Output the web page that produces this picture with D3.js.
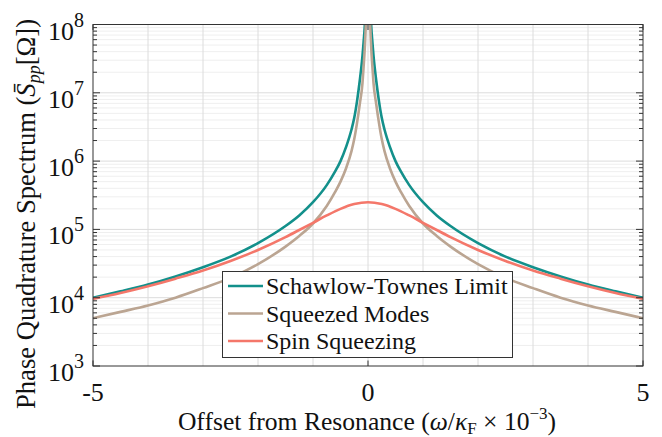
<!DOCTYPE html>
<html><head><meta charset="utf-8">
<script src="https://cdn.jsdelivr.net/npm/d3@7"></script>
<style>
body{margin:0;background:#fff}
text{font-family:"Liberation Serif","Times New Roman",serif;fill:#111}
</style>
</head><body>
<svg id="c" width="662" height="437"></svg>
<script>
// ---- data ----
const seriesNames = ["Schawlow-Townes Limit", "Squeezed Modes", "Spin Squeezing"];
const xTicks = [-5, 0, 5];
const yTicks = [3, 4, 5, 6, 7, 8]; // exponents of 10

const stX  = [-5,-4.5,-4,-3.5,-3,-2.5,-2,-1.5,-1.25,-1,-0.75,-0.6,-0.5,-0.4,-0.3,-0.25,-0.2,-0.15,-0.1,-0.08,-0.06,-0.04,
              0.04,0.06,0.08,0.1,0.15,0.2,0.25,0.3,0.4,0.5,0.6,0.75,1,1.25,1.5,2,2.5,3,3.5,4,4.5,5];
const stY  = [1.0e4,1.24e4,1.56e4,2.05e4,2.8e4,4.0e4,6.3e4,1.12e5,1.6e5,2.5e5,4.45e5,7.0e5,1.0e6,1.6e6,2.9e6,4.3e6,7.5e6,1.5e7,3.5e7,5.5e7,9.0e7,2.0e8,
              2.0e8,9.0e7,5.5e7,3.5e7,1.5e7,7.5e6,4.3e6,2.9e6,1.6e6,1.0e6,7.0e5,4.45e5,2.5e5,1.6e5,1.12e5,6.3e4,4.0e4,2.8e4,2.05e4,1.56e4,1.24e4,1.0e4];

const sqX  = [-5,-4.5,-4,-3.5,-3,-2.5,-2,-1.5,-1.25,-1,-0.75,-0.6,-0.5,-0.4,-0.3,-0.25,-0.2,-0.15,-0.1,-0.08,-0.06,-0.04,-0.03,
              0.03,0.04,0.06,0.08,0.1,0.15,0.2,0.25,0.3,0.4,0.5,0.6,0.75,1,1.25,1.5,2,2.5,3,3.5,4,4.5,5];
const sqY  = [5.0e3,6.2e3,7.7e3,1.0e4,1.38e4,1.95e4,3.1e4,5.6e4,8.0e4,1.22e5,2.2e5,3.5e5,5.0e5,7.8e5,1.4e6,2.1e6,3.6e6,6.8e6,1.4e7,2.4e7,4.3e7,1.0e8,1.8e8,
              1.8e8,1.0e8,4.3e7,2.4e7,1.4e7,6.8e6,3.6e6,2.1e6,1.4e6,7.8e5,5.0e5,3.5e5,2.2e5,1.22e5,8.0e4,5.6e4,3.1e4,1.95e4,1.38e4,1.0e4,7.7e3,6.2e3,5.0e3];

const spX  = [-5,-4.5,-4,-3.5,-3,-2.5,-2,-1.5,-1.25,-1,-0.75,-0.5,-0.25,0,0.25,0.5,0.75,1,1.25,1.5,2,2.5,3,3.5,4,4.5,5];
const spY  = [9.6e3,1.17e4,1.47e4,1.9e4,2.5e4,3.45e4,5.0e4,7.7e4,9.8e4,1.25e5,1.6e5,2.0e5,2.35e5,2.5e5,2.35e5,2.0e5,1.6e5,1.25e5,9.8e4,7.7e4,5.0e4,3.45e4,2.5e4,1.9e4,1.47e4,1.17e4,9.6e3];

const colors = ["#13908b", "#bba592", "#f4776a"];

// ---- layout ----
const L = 93, R = 643, T = 24.5, B = 366;
const svg = d3.select("#c");
const x = d3.scaleLinear().domain([-5, 5]).range([L, R]);
const y = d3.scaleLog().domain([1e3, 1e8]).range([B, T]);

// grid
const g = svg.append("g");
const minorVals = [];
for (let e = 3; e < 8; e++) for (let m = 2; m <= 9; m++) minorVals.push(m * Math.pow(10, e));
g.selectAll(".hm").data(minorVals).join("line")
  .attr("x1", L).attr("x2", R).attr("y1", d => y(d)).attr("y2", d => y(d))
  .attr("stroke", "#efefef").attr("stroke-width", 1);
g.selectAll(".hM").data(yTicks.slice(1, -1)).join("line")
  .attr("x1", L).attr("x2", R).attr("y1", d => y(Math.pow(10, d))).attr("y2", d => y(Math.pow(10, d)))
  .attr("stroke", "#dcdcdc").attr("stroke-width", 1);
g.selectAll(".v").data(d3.range(-4, 5)).join("line")
  .attr("x1", d => x(d)).attr("x2", d => x(d)).attr("y1", T).attr("y2", B)
  .attr("stroke", "#dcdcdc").attr("stroke-width", 1);

// curves
svg.append("clipPath").attr("id", "clip").append("rect")
  .attr("x", L).attr("y", T).attr("width", R - L).attr("height", B - T);
const line = d3.line().x(d => x(d[0])).y(d => y(d[1])).curve(d3.curveMonotoneX);
const series = [d3.zip(stX, stY), d3.zip(sqX, sqY), d3.zip(spX, spY)];
const cg = svg.append("g").attr("clip-path", "url(#clip)");
series.forEach((s, i) => {
  cg.append("path").attr("d", line(s)).attr("fill", "none")
    .attr("stroke", colors[i]).attr("stroke-width", 2.6);
});

// axes box and ticks
const ax = svg.append("g").attr("stroke", "#333").attr("stroke-width", 1);
ax.append("rect").attr("x", L).attr("y", T).attr("width", R - L).attr("height", B - T).attr("fill", "none");
yTicks.forEach(e => {
  const yy = y(Math.pow(10, e));
  ax.append("line").attr("x1", L).attr("x2", L + 7).attr("y1", yy).attr("y2", yy);
  ax.append("line").attr("x1", R).attr("x2", R - 7).attr("y1", yy).attr("y2", yy);
});
minorVals.forEach(v => {
  const yy = y(v);
  ax.append("line").attr("x1", L).attr("x2", L + 4).attr("y1", yy).attr("y2", yy);
  ax.append("line").attr("x1", R).attr("x2", R - 4).attr("y1", yy).attr("y2", yy);
});
xTicks.forEach(t => {
  ax.append("line").attr("x1", x(t)).attr("x2", x(t)).attr("y1", B).attr("y2", B - 5.5);
  ax.append("line").attr("x1", x(t)).attr("x2", x(t)).attr("y1", T).attr("y2", T + 5.5);
});

// tick labels
yTicks.forEach(e => {
  const t = svg.append("text").attr("x", 84).attr("y", y(Math.pow(10, e)) + 15)
    .attr("text-anchor", "end").style("font-size", "26px");
  t.append("tspan").text("10");
  t.append("tspan").attr("dy", -13).style("font-size", "20px").text(String(e));
});
xTicks.forEach(v => {
  svg.append("text").attr("x", x(v)).attr("y", 400.5).attr("text-anchor", "middle")
    .style("font-size", "26px").text(v < 0 ? "-" + Math.abs(v) : String(v));
});

// axis titles
const xl = svg.append("text").attr("x", 367).attr("y", 430).attr("text-anchor", "middle").style("font-size", "25.6px");
xl.append("tspan").text("Offset from Resonance (");
xl.append("tspan").style("font-style", "italic").text("ω");
xl.append("tspan").text("/");
xl.append("tspan").style("font-style", "italic").text("κ");
xl.append("tspan").attr("dy", 4).style("font-size", "17px").text("F");
xl.append("tspan").attr("dy", -4).text(" × 10");
xl.append("tspan").attr("dy", -11).style("font-size", "17px").text("−3");
xl.append("tspan").attr("dy", 11).text(")");

const yl = svg.append("text").attr("transform", "translate(35,214) rotate(-90)")
  .attr("text-anchor", "middle").style("font-size", "26.6px");
yl.append("tspan").text("Phase Quadrature Spectrum (");
yl.append("tspan").style("font-style", "italic").text("S\u0304");
yl.append("tspan").attr("dy", 5).style("font-size", "18px").style("font-style", "italic").text("pp");
yl.append("tspan").attr("dy", -5).text("[Ω])");

// legend
const lg = svg.append("g");
lg.append("rect").attr("x", 222.5).attr("y", 271.5).attr("width", 290).attr("height", 86)
  .attr("fill", "#fff").attr("stroke", "#333").attr("stroke-width", 1);
seriesNames.forEach((n, i) => {
  const yy = 286 + i * 27.5;
  lg.append("line").attr("x1", 228).attr("x2", 263).attr("y1", yy).attr("y2", yy)
    .attr("stroke", colors[i]).attr("stroke-width", 2.6);
  lg.append("text").attr("x", 266).attr("y", yy + 8).style("font-size", "24px").text(n);
});
</script>
</body></html>
